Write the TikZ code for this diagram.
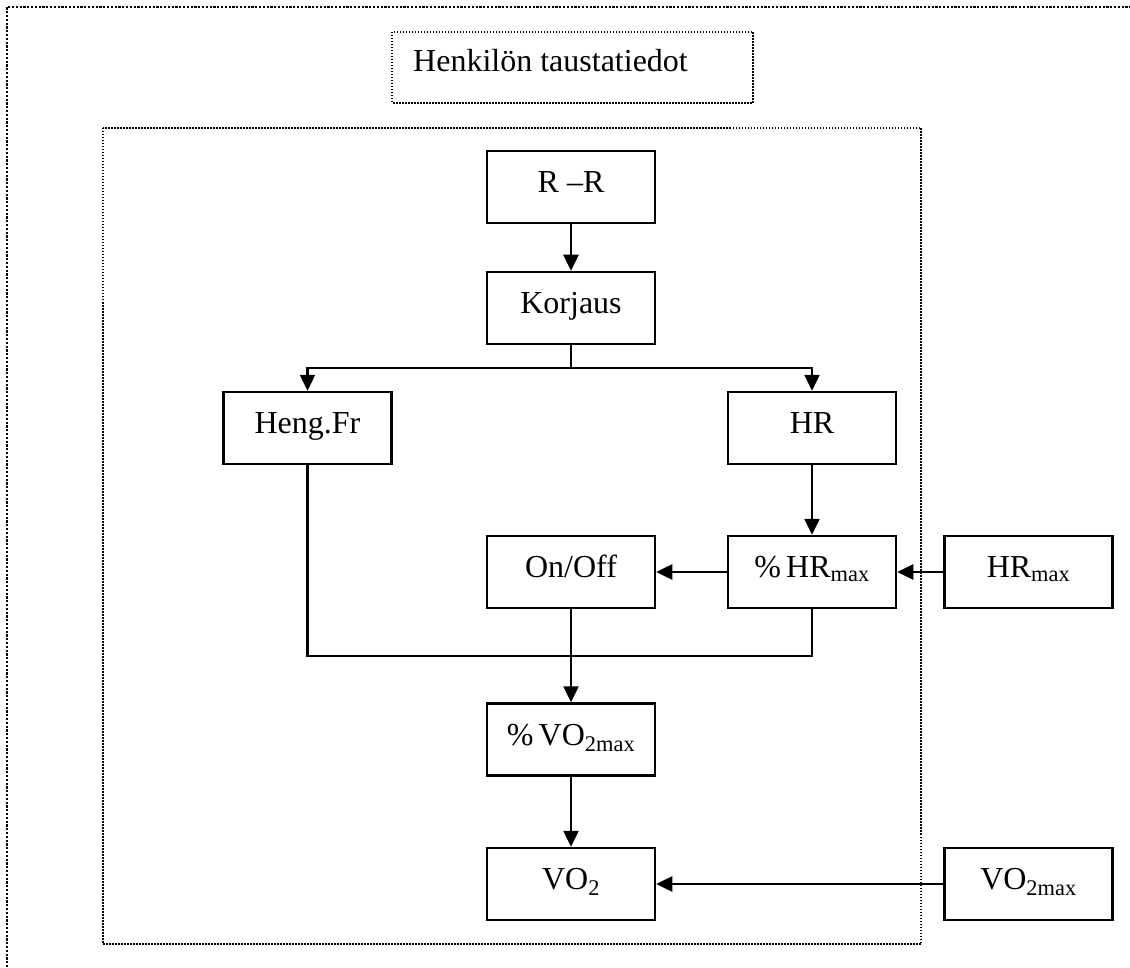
\documentclass[tikz,border=0pt]{standalone}
\usepackage{fontspec}
\setmainfont{Liberation Serif}
\usetikzlibrary{arrows.meta}
\tikzset{
  blk/.style={draw, line width=2.5pt, minimum width=168pt, minimum height=72pt,
    text height=22pt, text depth=11pt, inner sep=0pt},
  arr/.style={line width=2.5pt, -{Triangle[length=16pt,width=15pt]}},
  ln/.style={line width=2.5pt},
  fine/.style={line width=1.8pt, dash pattern=on 1.5pt off 1.5pt},
  coarse/.style={line width=2.6pt, dash pattern=on 2.2pt off 1.6pt}
}
\begin{document}
\begin{tikzpicture}[x=1pt, y=-1pt, font=\fontsize{32}{38}\selectfont]
      \useasboundingbox (0,0) rectangle (1130,968);
      \draw [coarse] (7,990) -- (7,7) -- (1150,7);
      \draw [fine] (392,32) rectangle (753,103);
      \node [anchor=base west, inner sep=0pt] (tausta) at (413,72) {Henkilön taustatiedot};
      \draw [fine] (103,128) rectangle (921,944);
      \node [blk] (rr) at (571,187) {R --R};
      \node [blk] (korj) at (571,308) {Korjaus};
      \node [blk] (heng) at (307.5,428) {Heng.Fr};
      \node [blk] (hr) at (812,428) {HR};
      \node [blk] (onoff) at (571,572) {On/Off};
      \node [blk] (hrp) at (812,572) {\%\,HR\textsubscript{max}};
      \node [blk] (hrmax) at (1028.5,572) {HR\textsubscript{max}};
      \node [blk] (vop) at (571,739.5) {\%\,VO\textsubscript{2max}};
      \node [blk] (vo) at (571,884) {VO\textsubscript{2}};
      \node [blk] (vomax) at (1028.5,884) {VO\textsubscript{2max}};
      \coordinate (split) at (571,368);
      \coordinate (join) at (571,656);
      \draw [arr] (rr) -- (korj);
      \draw [ln] (korj) -- (split);
      \draw [arr] (split) -| (heng);
      \draw [arr] (split) -| (hr);
      \draw [arr] (hr) -- (hrp);
      \draw [arr] (hrmax) -- (hrp);
      \draw [arr] (hrp) -- (onoff);
      \draw [ln] (heng) |- (join);
      \draw [ln] (hrp) |- (join);
      \draw [ln] (onoff) -- (join);
      \draw [arr] (join) -- (vop);
      \draw [arr] (vop) -- (vo);
      \draw [arr] (vomax) -- (vo);
   \end{tikzpicture}
\end{document}
